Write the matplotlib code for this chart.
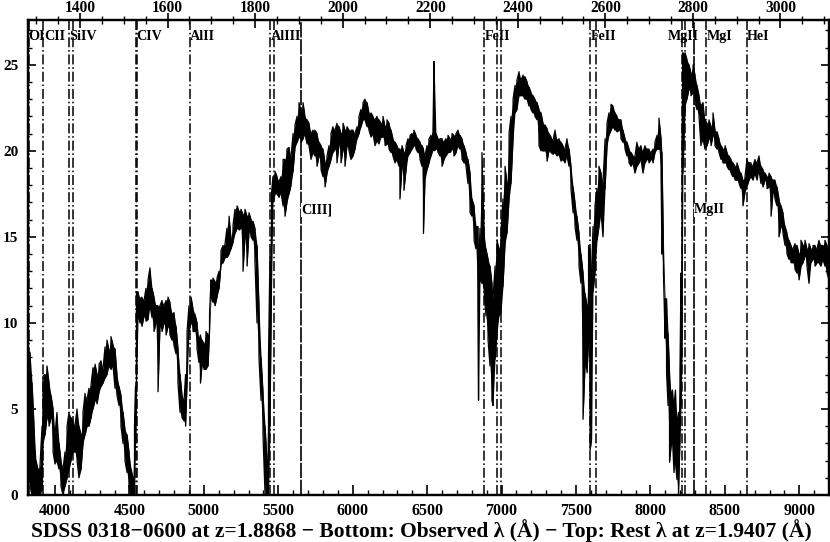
import numpy as np
import matplotlib
matplotlib.use("Agg")
import matplotlib.pyplot as plt
from matplotlib.ticker import MultipleLocator, FixedLocator
import matplotlib.transforms as mtransforms

# ---------------- data ----------------
wave = [3819, 3832, 3846, 3859, 3872, 3886, 3899, 3913, 3919, 3933, 3946, 3960, 3973, 3987,
        4000, 4013, 4027, 4040, 4054, 4067, 4081, 4094, 4107, 4121, 4134, 4148, 4161, 4175,
        4188, 4202, 4215, 4228, 4242, 4255, 4269, 4282, 4296, 4309, 4322, 4336, 4349, 4363,
        4376, 4390, 4403, 4416, 4430, 4443, 4457, 4470, 4484, 4497, 4511, 4524, 4534, 4541,
        4547, 4558, 4571, 4584, 4598, 4611, 4625, 4638, 4652, 4665, 4678, 4692, 4705, 4719,
        4732, 4746, 4759, 4772, 4786, 4799, 4813, 4826, 4840, 4853, 4867, 4877, 4887, 4900,
        4914, 4927, 4940, 4954, 4967, 4977, 4987, 5001, 5014, 5028, 5038, 5048, 5061, 5075,
        5088, 5102, 5115, 5129, 5142, 5155, 5169, 5182, 5196, 5209, 5223, 5236, 5249, 5263,
        5276, 5290, 5303, 5317, 5330, 5343, 5357, 5370, 5384, 5397, 5411, 5424, 5434, 5444,
        5454, 5464, 5478, 5491, 5505, 5518, 5532, 5545, 5558, 5572, 5585, 5599, 5612, 5626,
        5639, 5652, 5666, 5679, 5693, 5706, 5720, 5733, 5746, 5760, 5773, 5787, 5800, 5814,
        5827, 5841, 5854, 5867, 5881, 5894, 5908, 5921, 5935, 5948, 5961, 5975, 5988, 6002,
        6015, 6029, 6042, 6055, 6069, 6082, 6096, 6109, 6123, 6136, 6150, 6163, 6176, 6190,
        6203, 6217, 6230, 6244, 6257, 6270, 6284, 6297, 6311, 6317, 6331, 6344, 6358, 6371,
        6385, 6398, 6411, 6425, 6438, 6452, 6465, 6475, 6485, 6499, 6512, 6526, 6539, 6546,
        6559, 6573, 6586, 6600, 6613, 6626, 6640, 6653, 6667, 6680, 6694, 6707, 6720, 6734,
        6747, 6761, 6774, 6788, 6801, 6815, 6828, 6841, 6845, 6855, 6868, 6882, 6895, 6909,
        6922, 6935, 6942, 6956, 6969, 6982, 6996, 7009, 7023, 7036, 7050, 7063, 7077, 7090,
        7103, 7117, 7130, 7144, 7157, 7171, 7184, 7197, 7211, 7224, 7238, 7251, 7265, 7278,
        7291, 7305, 7318, 7332, 7345, 7359, 7372, 7386, 7399, 7412, 7426, 7439, 7453, 7466,
        7480, 7493, 7506, 7520, 7533, 7547, 7560, 7574, 7584, 7594, 7604, 7614, 7627, 7641,
        7654, 7668, 7681, 7695, 7708, 7721, 7735, 7748, 7762, 7775, 7789, 7802, 7815, 7829,
        7842, 7856, 7869, 7883, 7896, 7909, 7923, 7936, 7950, 7963, 7977, 7990, 8004, 8017,
        8030, 8044, 8057, 8071, 8077, 8087, 8098, 8108, 8118, 8128, 8138, 8148, 8158, 8168,
        8178, 8188, 8198, 8205, 8212, 8218, 8232, 8245, 8259, 8272, 8286, 8299, 8312, 8326,
        8339, 8353, 8366, 8380, 8393, 8407, 8420, 8433, 8447, 8460, 8474, 8487, 8501, 8514,
        8527, 8541, 8554, 8568, 8581, 8595, 8608, 8621, 8635, 8648, 8662, 8675, 8689, 8702,
        8716, 8729, 8742, 8756, 8769, 8783, 8796, 8810, 8823, 8836, 8850, 8863, 8877, 8890,
        8904, 8917, 8930, 8944, 8957, 8971, 8984, 8998, 9011, 9025, 9038, 9051, 9065, 9078,
        9092, 9105, 9119, 9132, 9145, 9159, 9172, 9186, 9199]

flux_lo = [1.0, 0.5, 0.0, 0.0, 0.0, 0.0, 0.0, 0.3, 3.0, 3.5, 4.5, 4.0, 4.5, 2.5,
           1.8, 2.0, 1.5, 0.5, 0.0, 0.5, 1.0, 1.5, 2.0, 2.5, 2.5, 2.0, 1.0, 1.5,
           3.0, 3.5, 4.0, 4.0, 4.5, 5.0, 5.5, 5.3, 6.0, 6.3, 6.5, 6.8, 7.0, 7.5,
           7.3, 7.5, 6.2, 5.8, 5.2, 4.0, 3.0, 2.0, 1.3, 0.5, 0.0, 0.0, 0.0, 3.0,
           6.0, 10.4, 10.0, 9.8, 10.4, 10.1, 10.2, 11.0, 10.3, 9.5, 10.0, 6.0, 9.8, 9.5,
           10.0, 9.3, 9.8, 9.3, 9.0, 8.7, 8.2, 6.5, 4.8, 4.5, 4.3, 4.0, 6.5, 9.5,
           10.0, 9.5, 9.5, 8.5, 7.7, 6.5, 7.5, 7.3, 7.3, 7.5, 9.5, 11.5, 11.2, 11.0,
           11.5, 12.0, 13.4, 13.5, 13.8, 13.8, 14.0, 14.3, 14.7, 15.2, 15.5, 15.4, 15.5, 13.0,
           15.0, 13.3, 15.3, 15.0, 14.8, 13.6, 10.0, 8.0, 5.5, 3.5, 0.0, 0.0, 0.0, 4.0,
           12.0, 17.0, 17.5, 17.5, 17.3, 17.6, 16.8, 16.2, 17.0, 17.5, 18.0, 18.8, 20.2, 20.5,
           20.8, 20.5, 20.7, 21.0, 20.4, 20.3, 19.5, 19.9, 19.7, 19.1, 19.7, 18.9, 18.5, 17.9,
           18.7, 19.1, 19.5, 19.9, 20.1, 19.3, 20.4, 19.3, 20.1, 19.1, 20.3, 20.0, 19.5, 19.7,
           20.1, 20.7, 21.0, 21.4, 21.8, 21.8, 21.4, 21.2, 20.8, 21.0, 20.3, 20.6, 20.4, 20.8,
           20.8, 20.3, 20.4, 20.1, 19.9, 19.7, 19.3, 19.5, 19.1, 17.2, 19.1, 17.7, 18.9, 19.7,
           19.9, 20.1, 20.3, 20.1, 19.9, 19.5, 19.1, 15.2, 18.3, 18.9, 19.3, 19.7, 20.1, 20.0,
           20.1, 19.9, 19.7, 19.1, 19.5, 19.7, 19.9, 19.9, 20.1, 19.7, 19.9, 20.3, 20.1, 19.5,
           19.3, 19.1, 18.1, 16.4, 16.2, 14.8, 14.3, 11.4, 5.5, 12.5, 12.3, 11.9, 10.4, 9.0,
           7.5, 5.5, 5.2, 7.9, 9.4, 10.4, 10.6, 12.1, 14.6, 15.2, 17.2, 18.1, 20.7, 22.2,
           22.4, 23.2, 23.2, 23.2, 23.0, 23.0, 22.6, 22.4, 22.2, 22.0, 21.8, 20.3, 20.0, 20.0,
           20.0, 19.4, 20.0, 19.9, 19.8, 19.9, 19.7, 19.8, 19.4, 19.5, 19.3, 19.7, 19.1, 17.8,
           16.4, 15.6, 14.8, 13.3, 12.3, 4.4, 7.5, 7.1, 9.0, 2.6, 3.2, 11.8, 12.9, 14.8,
           15.6, 16.4, 15.0, 17.8, 20.3, 20.9, 21.2, 21.4, 21.2, 21.1, 21.2, 20.7, 20.5, 20.1,
           19.7, 19.3, 19.1, 19.3, 18.7, 19.1, 19.3, 19.5, 18.7, 19.3, 19.5, 19.3, 19.5, 19.3,
           19.9, 20.1, 20.1, 18.7, 14.0, 12.9, 9.1, 7.1, 5.2, 1.9, 2.8, 3.2, 1.3, 1.9,
           0.9, 0.0, 3.2, 5.2, 9.0, 18.7, 22.6, 23.0, 23.6, 23.2, 23.4, 22.8, 22.4, 22.0,
           20.3, 20.7, 20.1, 20.3, 20.7, 20.3, 20.9, 20.3, 20.1, 19.9, 19.5, 19.3, 19.3, 19.1,
           18.9, 18.7, 18.5, 18.3, 18.3, 18.1, 17.8, 16.8, 17.6, 17.9, 18.3, 18.5, 18.3, 18.7,
           18.3, 18.9, 18.1, 17.9, 18.3, 17.8, 17.9, 16.2, 17.6, 17.2, 16.8, 15.0, 15.6, 15.2,
           14.5, 14.0, 13.7, 13.5, 13.5, 13.1, 12.9, 12.5, 13.3, 13.5, 13.9, 13.3, 12.3, 13.5,
           13.7, 13.3, 13.5, 13.5, 13.3, 13.7, 13.3, 12.9, 12.5]

flux_hi = [8.0, 8.3, 6.5, 4.0, 2.0, 1.5, 1.7, 4.0, 6.9, 7.0, 7.5, 6.5, 5.8, 5.0,
           3.5, 4.8, 3.0, 2.0, 1.5, 2.5, 4.0, 4.8, 4.5, 4.3, 4.0, 5.0, 4.0, 3.5,
           4.8, 5.9, 5.5, 6.2, 6.4, 7.4, 7.6, 7.0, 7.6, 7.8, 7.3, 8.6, 9.0, 8.4,
           9.2, 8.7, 8.5, 7.0, 6.3, 5.8, 4.8, 3.8, 3.5, 2.5, 1.5, 1.0, 4.0, 6.3,
           11.8, 11.8, 11.4, 11.5, 11.3, 12.0, 12.5, 13.2, 12.0, 11.5, 11.0, 11.0, 11.0, 11.3,
           11.0, 11.3, 11.5, 11.2, 10.5, 10.6, 9.8, 8.5, 7.0, 5.8, 5.5, 7.0, 9.5, 11.0,
           11.5, 10.8, 10.5, 10.0, 9.0, 9.3, 9.0, 8.8, 9.5, 9.3, 10.5, 12.5, 12.6, 12.4,
           12.6, 13.0, 14.2, 14.5, 14.6, 15.5, 16.2, 14.9, 15.7, 16.6, 16.8, 16.5, 16.6, 16.3,
           16.6, 16.2, 16.4, 16.0, 15.9, 15.5, 14.5, 11.0, 8.0, 6.0, 4.0, 2.0, 8.0, 14.0,
           17.5, 18.5, 18.8, 18.5, 18.2, 18.5, 19.5, 19.5, 20.1, 20.2, 19.6, 21.0, 21.5, 22.0,
           22.8, 22.3, 22.8, 22.0, 21.8, 21.6, 21.0, 21.2, 21.2, 21.0, 20.5, 20.3, 20.1, 19.3,
           19.7, 20.3, 21.0, 21.4, 21.2, 21.6, 21.4, 21.0, 21.6, 21.2, 21.4, 21.2, 21.2, 21.2,
           21.0, 21.4, 22.0, 22.4, 22.8, 23.0, 22.8, 22.2, 22.2, 22.0, 21.8, 22.0, 21.8, 21.6,
           22.0, 21.4, 21.8, 21.6, 21.2, 20.7, 20.5, 20.3, 20.1, 20.1, 20.3, 19.9, 20.3, 20.7,
           20.9, 21.0, 21.2, 20.9, 20.7, 20.5, 20.3, 20.1, 19.7, 20.3, 20.7, 20.9, 21.2, 25.2,
           21.0, 20.7, 20.7, 20.7, 20.5, 20.7, 20.9, 20.7, 21.0, 20.9, 21.0, 21.2, 20.9, 20.7,
           20.3, 19.9, 19.5, 18.7, 17.2, 16.8, 15.6, 15.6, 13.0, 15.5, 19.9, 15.2, 14.3, 13.7,
           13.3, 12.3, 11.4, 13.3, 14.8, 14.3, 15.2, 17.2, 19.1, 18.1, 21.0, 22.0, 23.0, 23.8,
           24.1, 24.6, 24.1, 24.4, 24.3, 24.0, 23.7, 23.4, 23.2, 23.0, 22.8, 22.4, 22.2, 21.6,
           21.5, 21.3, 21.0, 20.8, 20.6, 21.2, 20.6, 20.7, 20.5, 20.3, 20.1, 20.7, 20.1, 19.1,
           17.9, 17.0, 16.2, 15.2, 14.0, 12.9, 11.7, 11.0, 14.5, 14.3, 12.9, 15.6, 16.8, 17.8,
           19.1, 18.7, 18.1, 20.7, 21.6, 22.2, 22.7, 22.6, 22.2, 22.0, 21.8, 21.8, 21.2, 20.7,
           20.5, 20.1, 19.9, 19.7, 19.7, 20.5, 20.1, 20.3, 19.9, 20.3, 20.1, 20.1, 19.9, 20.1,
           20.5, 20.9, 21.9, 20.7, 19.9, 14.5, 11.4, 11.4, 9.4, 7.1, 5.9, 6.1, 5.2, 6.1,
           4.2, 4.8, 7.1, 12.9, 20.7, 25.7, 25.7, 25.3, 25.0, 24.5, 25.0, 24.4, 23.8, 23.2,
           22.6, 22.8, 21.8, 21.6, 21.8, 21.4, 22.2, 21.2, 21.1, 20.7, 20.3, 20.1, 20.3, 19.9,
           19.7, 19.5, 19.3, 19.1, 19.3, 18.9, 18.7, 18.3, 18.5, 19.5, 19.3, 19.3, 19.1, 19.5,
           19.3, 19.7, 19.1, 18.9, 18.7, 18.5, 18.7, 18.5, 18.3, 18.3, 17.9, 17.2, 16.8, 16.4,
           15.6, 15.2, 14.8, 14.5, 14.3, 14.6, 14.5, 14.0, 14.8, 14.5, 14.8, 14.3, 14.6, 14.3,
           14.5, 14.5, 14.3, 14.8, 14.5, 14.5, 14.8, 14.5, 14.0]

# line markers: (label, rest wavelengths in Angstrom)
z_abs = 1.936
abs_labels = ["OI", "CII", "SiIV", "CIV", "AlII", "AlIII", "FeII", "FeII", "MgII", "MgI", "HeI"]
abs_rest = [[1302.17], [1334.53], [1393.76, 1402.77], [1548.20, 1550.78], [1670.79],
            [1854.72, 1862.79], [2344.21, 2374.46, 2382.77], [2586.65, 2600.17],
            [2796.35, 2803.53], [2852.96], [2945.10]]
z_em = 1.962
em_labels = ["CIII]", "MgII"]
em_rest = [1908.73, 2798.75]

obs_ticks = [4000, 4500, 5000, 5500, 6000, 6500, 7000, 7500, 8000, 8500, 9000]
rest_ticks = [1400, 1600, 1800, 2000, 2200, 2400, 2600, 2800, 3000]
flux_ticks = [0, 5, 10, 15, 20, 25]

title = "SDSS 0318\u22120600 at z=1.8868 \u2212 Bottom: Observed \u03bb (\u00c5) \u2212 Top: Rest \u03bb at z=1.9407 (\u00c5)"

# ---------------- plotting ----------------
plt.rcParams['font.family'] = ['Liberation Serif', 'DejaVu Serif']
plt.rcParams['lines.scale_dashes'] = False

fig = plt.figure(figsize=(8.3, 5.42), dpi=100)
W, H = 830.0, 542.0
ax = fig.add_axes([28 / W, 1 - 495 / H, (829 - 28) / W, (495 - 20) / H])

wave_a = np.asarray(wave, float)
lo = np.asarray(flux_lo, float)
hi = np.asarray(flux_hi, float)
ax.fill_between(wave_a, lo, hi, color='black', lw=0, zorder=3)
zx = np.repeat(wave_a, 2)
zy = np.empty_like(zx)
for i in range(len(wave_a)):
    if i % 2 == 0:
        zy[2 * i], zy[2 * i + 1] = lo[i], hi[i]
    else:
        zy[2 * i], zy[2 * i + 1] = hi[i], lo[i]
ax.plot(zx, zy, color='black', lw=0.9, zorder=3)

ax.set_xlim(3818.6, 9199.2)
ax.set_ylim(0, 27.6)

trans = mtransforms.blended_transform_factory(ax.transData, ax.transAxes)
dashdot = (0, (7.2, 2.0, 1.2, 2.0))
label_shift = {"MgII": -99.0, "OI": -6.0, "CII": 6.0}
for name, rests in zip(abs_labels, abs_rest):
    obs = [r * (1 + z_abs) for r in rests]
    for o in obs:
        ax.axvline(o, color='black', lw=1.1, linestyle=dashdot, zorder=4)
    ax.text(obs[0] + 3 + label_shift.get(name, 0.0), 0.978, name, transform=trans,
            ha='left', va='top', fontsize=10.2, fontweight='bold', zorder=5,
            clip_on=False)
for name, r in zip(em_labels, em_rest):
    o = r * (1 + z_em)
    ax.axvline(o, color='black', lw=1.2, linestyle=(0, (11, 1.2)), zorder=4)
    ax.text(o + 3, 0.614, name, transform=trans, ha='left', va='top',
            fontsize=10.2, fontweight='bold', zorder=5,
            bbox=dict(facecolor='white', edgecolor='none', pad=0.3))

# bottom / left / right axes
ax.xaxis.set_major_locator(FixedLocator(obs_ticks))
ax.xaxis.set_minor_locator(MultipleLocator(100))
ax.yaxis.set_major_locator(FixedLocator(flux_ticks))
ax.yaxis.set_minor_locator(MultipleLocator(1))
ax.tick_params(axis='x', which='both', direction='in', top=False, bottom=True,
               labelsize=11.5, pad=6)
ax.tick_params(axis='x', which='major', length=7, width=1.2)
ax.tick_params(axis='x', which='minor', length=3.6, width=1.0)
ax.tick_params(axis='y', which='both', direction='in', left=True, right=True,
               labelsize=11, pad=7)
ax.tick_params(axis='y', which='major', length=6, width=1.2)
ax.tick_params(axis='y', which='minor', length=3, width=1.0)
for lab in ax.get_xticklabels() + ax.get_yticklabels():
    lab.set_fontweight('bold')
for s in ax.spines.values():
    s.set_linewidth(1.6)

# top axis: rest wavelength
ax2 = ax.twiny()
ax2.set_xlim(1281.2, 3110.8)
ax2.xaxis.set_major_locator(FixedLocator(rest_ticks))
ax2.xaxis.set_minor_locator(MultipleLocator(50))
ax2.tick_params(axis='x', which='both', direction='inout', labelsize=11.2, pad=-2.5)
ax2.tick_params(axis='x', which='major', length=10.8, width=1.2)
ax2.tick_params(axis='x', which='minor', length=5.8, width=1.0)
for lab in ax2.get_xticklabels():
    lab.set_fontweight('bold')
for s in ax2.spines.values():
    s.set_linewidth(1.6)

fig.text(421 / W, 1 - 531 / H, title, ha='center', va='center', fontsize=15.5,
         fontweight='bold')

fig.savefig('out.png', dpi=100)
